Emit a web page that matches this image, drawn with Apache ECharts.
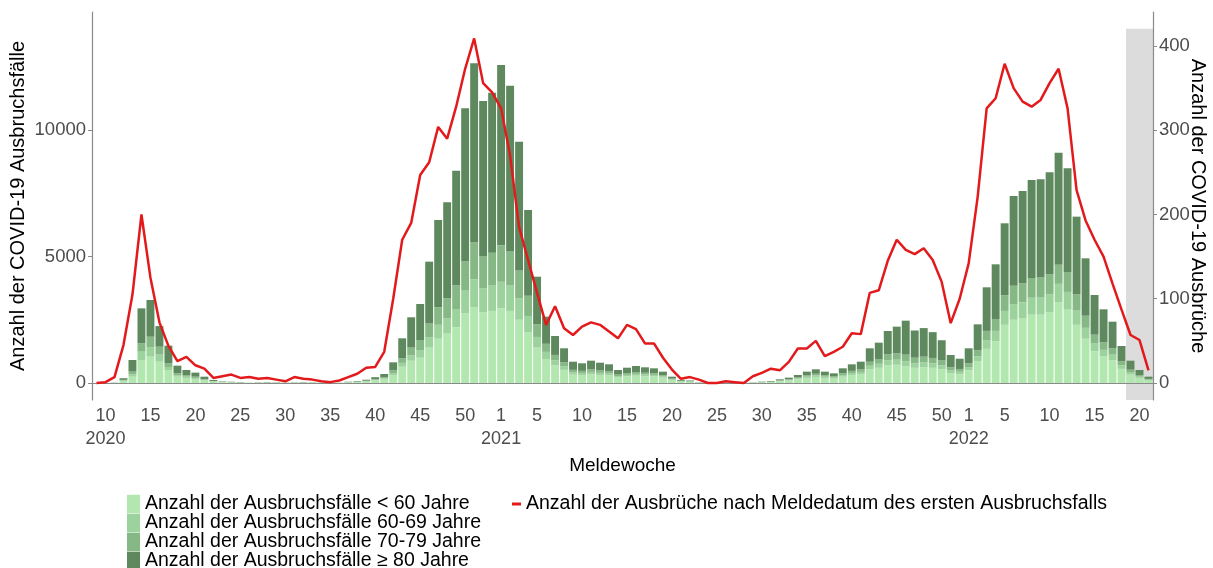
<!DOCTYPE html>
<html>
<head>
<meta charset="utf-8">
<script src="https://cdn.jsdelivr.net/npm/echarts@6.0.0/dist/echarts.min.js"></script>
<style>
  html, body { margin: 0; padding: 0; background: #fff; }
  #chart { width: 1213px; height: 568px; }
</style>
</head>
<body>
<div id="chart"></div>
<script>
// weeks shown: 2020 W9 - W53, 2021 W1 - W52, 2022 W1 - W21
var weekRanges = [[2020, 9, 53], [2021, 1, 52], [2022, 1, 21]];

var tickLabels = [
  ['2020-10', '10\n2020'], ['2020-15', '15'], ['2020-20', '20'], ['2020-25', '25'],
  ['2020-30', '30'], ['2020-35', '35'], ['2020-40', '40'], ['2020-45', '45'], ['2020-50', '50'],
  ['2021-1', '1\n2021'], ['2021-5', '5'], ['2021-10', '10'], ['2021-15', '15'], ['2021-20', '20'],
  ['2021-25', '25'], ['2021-30', '30'], ['2021-35', '35'], ['2021-40', '40'], ['2021-45', '45'],
  ['2021-50', '50'],
  ['2022-1', '1\n2022'], ['2022-5', '5'], ['2022-10', '10'], ['2022-15', '15'], ['2022-20', '20']
];

// Ausbruchsfälle per age group
var under60 = [
  0, 0, 10, 80, 250, 909, 1040, 842, 514, 250, 200, 160, 100, 50, 30, 25, 22, 8, 16, 22,
  16, 11, 16, 22, 16, 11, 8, 8, 25, 40, 60, 100, 140, 300, 645, 880, 1000, 1400, 1750, 1950,
  2200, 2750, 3000, 2800, 2850,
  2950, 2850, 2500, 2000, 1400, 950, 700, 520, 330, 310, 350, 320, 300, 220, 260, 290, 270, 260, 210, 120,
  60, 50, 15, 10, 8, 5, 5, 5, 14, 25, 38, 70, 100, 145, 200, 240, 200, 170, 250, 310,
  350, 540, 600, 700, 720, 660, 600, 620, 600, 540, 380, 350,
  500, 850, 1350, 1650, 2300, 2500, 2550, 2700, 2700, 2800, 3200, 2900, 2300, 1750, 1250, 1050, 900, 560, 350, 210, 110
];
var age60to69 = [
  0, 0, 3, 20, 90, 330, 380, 280, 120, 60, 50, 40, 25, 15, 6, 5, 4, 2, 3, 4,
  3, 2, 3, 4, 3, 2, 2, 2, 6, 10, 15, 25, 40, 90, 150, 220, 300, 400, 550, 600,
  700, 900, 1100, 950, 1000,
  1050, 1000, 850, 650, 420, 280, 190, 140, 90, 80, 90, 80, 75, 55, 60, 70, 65, 60, 45, 25,
  12, 10, 3, 2, 2, 1, 1, 1, 3, 6, 9, 15, 22, 35, 50, 60, 50, 42, 65, 80,
  90, 140, 160, 200, 200, 200, 180, 190, 180, 160, 110, 95,
  130, 210, 330, 410, 550, 620, 640, 670, 680, 700, 720, 700, 560, 430, 310, 260, 220, 140, 85, 50, 25
];
var age70to79 = [
  0, 0, 3, 25, 110, 330, 410, 313, 143, 74, 60, 50, 25, 15, 8, 6, 4, 2, 4, 4,
  4, 2, 4, 4, 4, 2, 2, 2, 6, 10, 15, 30, 45, 110, 180, 300, 400, 550, 700, 800,
  950, 1150, 1450, 1250, 1300,
  1450, 1350, 1100, 800, 500, 320, 220, 160, 100, 90, 100, 95, 85, 60, 70, 75, 70, 65, 50, 30,
  15, 12, 4, 3, 2, 1, 1, 1, 3, 6, 9, 18, 25, 40, 55, 65, 55, 48, 70, 90,
  100, 160, 190, 240, 250, 260, 220, 230, 210, 190, 130, 110,
  150, 240, 380, 470, 620, 720, 740, 780, 790, 800, 750, 780, 640, 480, 350, 300, 250, 160, 95, 55, 28
];
var age80plus = [
  0, 0, 4, 65, 459, 1381, 1450, 815, 698, 301, 204, 160, 100, 40, 16, 14, 10, 3, 7, 10,
  7, 5, 7, 10, 7, 5, 3, 3, 13, 20, 40, 75, 131, 317, 791, 1197, 1423, 2446, 3443, 3793,
  4544, 6059, 7087, 6147, 6326,
  7120, 6552, 5089, 3389, 1882, 1071, 748, 552, 322, 299, 342, 308, 279, 179, 215, 237, 215, 195, 143, 75,
  32, 28, 8, 5, 3, 3, 3, 3, 8, 16, 23, 42, 64, 96, 143, 175, 143, 122, 195, 258,
  303, 531, 644, 915, 1057, 1344, 1075, 1130, 1020, 800, 487, 405,
  591, 1019, 1722, 2161, 2842, 3552, 3660, 3875, 3881, 4028, 4435, 4106, 3075, 2268, 1569, 1302, 1054, 603, 352, 199, 87
];

// Anzahl der Ausbrüche (right axis)
var outbreaks = [
  0, 1, 7, 45, 105, 200, 125, 72, 44, 26, 31, 21, 17, 6, 8, 10, 6, 7, 5, 6,
  4, 2, 7, 5, 4, 2, 1, 3, 7, 11, 18, 19, 37, 100, 170, 190, 247, 262, 304, 290,
  328, 373, 409, 356, 345,
  326, 270, 185, 146, 107, 69, 91, 65, 57, 67, 72, 69, 61, 53, 69, 64, 47, 47, 30, 16,
  5, 7, 4, 0, 0, 2, 1, 0, 8, 12, 17, 15, 25, 41, 41, 50, 32, 37, 43, 59,
  58, 107, 110, 145, 170, 158, 153, 160, 146, 120, 71, 100,
  142, 221, 326, 338, 379, 350, 334, 328, 336, 356, 373, 326, 229, 193, 170, 150, 118, 87, 57, 51, 15
];

// grey band: weeks not yet complete
var shadeFrom = '2022-19';
var shadeTop = 14000;

var categories = [];
weekRanges.forEach(function (r) {
  for (var w = r[1]; w <= r[2]; w++) categories.push(r[0] + '-' + w);
});
var tickMap = {};
tickLabels.forEach(function (t) { tickMap[t[0]] = t[1]; });
function isTick(idx, val) { return tickMap[val] !== undefined; }
function plain(v) { return String(v); }

var font = 'Liberation Sans, Arial, sans-serif';
var axisGrey = '#8a8a8a';
var labelGrey = '#4d4d4d';

var names = [
  'Anzahl der Ausbruchsfälle < 60 Jahre',
  'Anzahl der Ausbruchsfälle 60-69 Jahre',
  'Anzahl der Ausbruchsfälle 70-79 Jahre',
  'Anzahl der Ausbruchsfälle ≥ 80 Jahre'
];
var lineName = 'Anzahl der Ausbrüche nach Meldedatum des ersten Ausbruchsfalls';
var colors = ['#b2e8b0', '#9cd29b', '#86b886', '#5e885d'];
var values = [under60, age60to69, age70to79, age80plus];

var barSeries = values.map(function (v, i) {
  return {
    name: names[i], type: 'bar', stack: 'faelle', data: v,
    barCategoryGap: '12%', itemStyle: { color: colors[i] }, z: 2
  };
});

var chart = echarts.init(document.getElementById('chart'), null, { renderer: 'canvas' });
chart.setOption({
  animation: false,
  textStyle: { fontFamily: font },
  grid: { left: 92, right: 60, top: 12, bottom: 168, outerBoundsMode: 'none' },
  legend: [{
    data: names, orient: 'vertical', left: 127, top: 494, height: 120, padding: 0,
    icon: 'rect', itemWidth: 13, itemHeight: 18.5, itemGap: -1,
    textStyle: { fontSize: 19.5, color: '#000', fontFamily: font }
  }, {
    data: [lineName], left: 512, top: 494, padding: 0,
    icon: 'rect', itemWidth: 9, itemHeight: 3,
    textStyle: { fontSize: 19.5, color: '#000', fontFamily: font }
  }],
  xAxis: {
    type: 'category', data: categories, boundaryGap: true,
    name: 'Meldewoche', nameLocation: 'middle', nameGap: 56, nameMoveOverlap: false,
    nameTextStyle: { fontSize: 19, color: '#000' },
    axisLine: { lineStyle: { color: axisGrey, width: 1.2 } },
    axisTick: { interval: isTick, alignWithLabel: true, length: 4, lineStyle: { color: axisGrey } },
    axisLabel: {
      interval: isTick, margin: 5, fontSize: 18, color: labelGrey, lineHeight: 23,
      formatter: function (val) { return tickMap[val] || ''; }
    },
    splitLine: { show: false }
  },
  yAxis: [{
    type: 'value', min: -672, max: 14664,
    name: 'Anzahl der COVID-19 Ausbruchsfälle', nameLocation: 'middle', nameGap: 64, nameMoveOverlap: false,
    nameTextStyle: { fontSize: 20, color: '#000' },
    axisLine: { show: true, lineStyle: { color: axisGrey, width: 1.2 } },
    axisTick: { show: true, length: 4, customValues: [0, 5000, 10000], lineStyle: { color: axisGrey } },
    axisLabel: { customValues: [0, 5000, 10000], formatter: plain, margin: 6, fontSize: 18.5, color: labelGrey },
    splitLine: { show: false }
  }, {
    type: 'value', min: -20.2, max: 440.4, position: 'right',
    name: 'Anzahl der COVID-19 Ausbrüche', nameLocation: 'middle', nameGap: 35, nameRotate: -90,
    nameMoveOverlap: false,
    nameTextStyle: { fontSize: 20, color: '#000' },
    axisLine: { show: true, lineStyle: { color: axisGrey, width: 1.2 } },
    axisTick: { show: true, length: 4, customValues: [0, 100, 200, 300, 400], lineStyle: { color: axisGrey } },
    axisLabel: { customValues: [0, 100, 200, 300, 400], formatter: plain, margin: 6, fontSize: 18.5, color: labelGrey },
    splitLine: { show: false }
  }],
  series: [{
    type: 'custom', z: 0, silent: true,
    data: [[shadeFrom, shadeTop]],
    encode: { x: 0, y: 1 },
    renderItem: function (params, api) {
      var p = api.coord([api.value(0), api.value(1)]);
      var band = api.size([1, 0])[0];
      var cs = params.coordSys;
      var x0 = p[0] - band / 2;
      return {
        type: 'rect',
        shape: { x: x0, y: p[1], width: cs.x + cs.width - x0, height: cs.y + cs.height - p[1] },
        style: { fill: '#dcdcdc' }
      };
    }
  }].concat(barSeries, [{
    name: lineName, type: 'line', yAxisIndex: 1, data: outbreaks,
    symbol: 'none', z: 3,
    lineStyle: { color: '#e31a1c', width: 2.5 }, itemStyle: { color: '#e31a1c' }
  }])
});
</script>
</body>
</html>
